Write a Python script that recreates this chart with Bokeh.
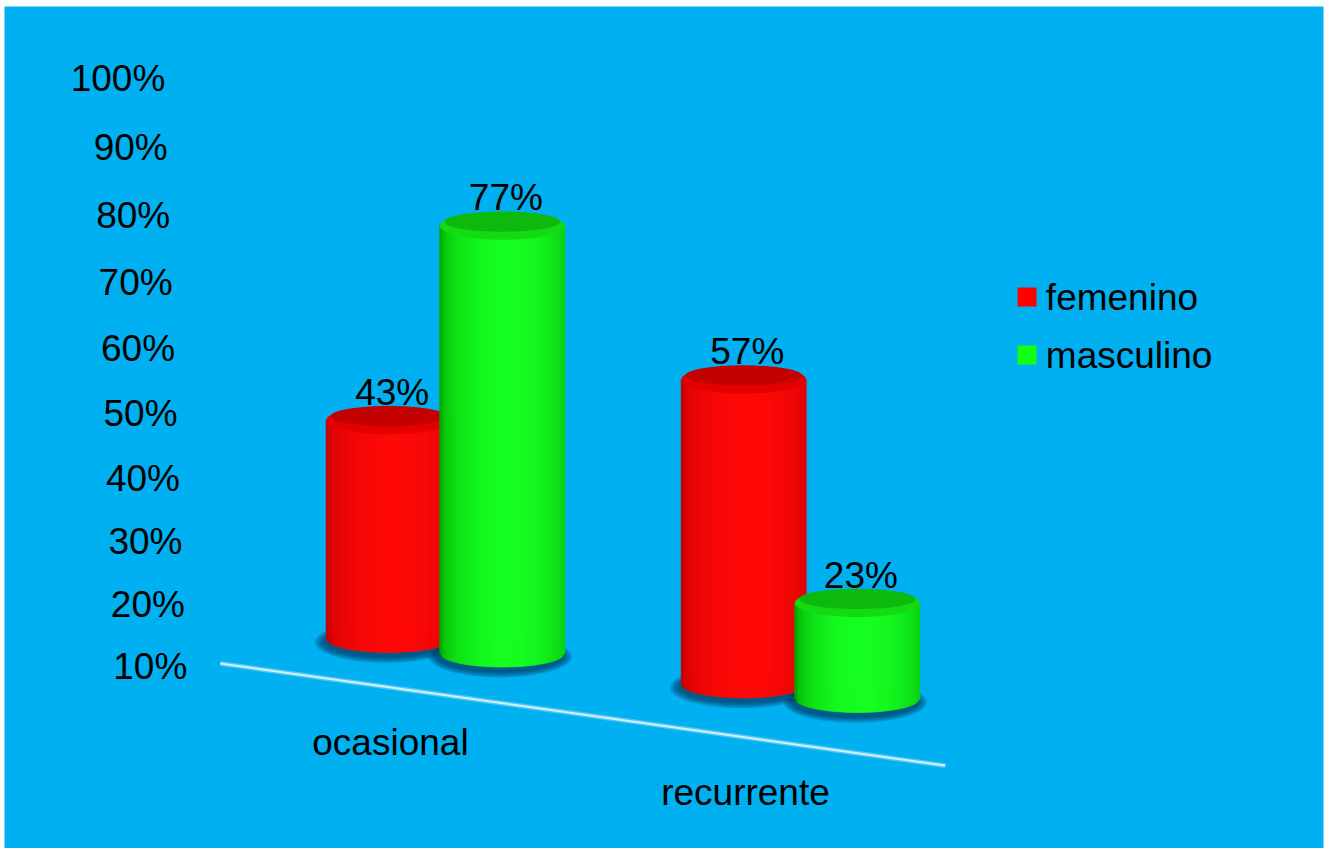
import numpy as np
from bokeh.plotting import figure
from bokeh.models import Range1d
from bokeh.core.properties import value
from bokeh.embed import file_html
from bokeh.resources import INLINE

# ---- data -------------------------------------------------------------
categories = ["ocasional", "recurrente"]
series_names = ["femenino", "masculino"]
femenino = [43, 57]
masculino = [77, 23]
tick_values = [10, 20, 30, 40, 50, 60, 70, 80, 90, 100]
tick_labels = ["10%", "20%", "30%", "40%", "50%", "60%", "70%", "80%", "90%", "100%"]

# ---- styling ----------------------------------------------------------
FONT = value("Liberation Sans")
FONT_SIZE = "37px"
BLUE = "#00B0F0"
# (body centre, body edge, top rim, top face)
SERIES_STYLE = {
    "femenino": ((255, 8, 6), (200, 0, 0), "#E20000", "#C40000"),
    "masculino": ((22, 255, 32), (0, 170, 0), "#14DA14", "#0CB90C"),
}
LEGEND_COLORS = {"femenino": "#FF0000", "masculino": "#11FF11"}

# ---- oblique projection of the 3-D columns ------------------------------
X_RANGE = (-1.242, 2.473)
Y_RANGE = (-17.93, 110.95)
BAR_OFFSET = 0.16      # column centre relative to its category
RADIUS = 0.176         # column radius (x units)
CAP = 2.14             # half height of the elliptical cap (y units)
FLOOR0, FLOOR_SLOPE = 13.10, 6.95      # column base line on the floor
HEIGHT_SCALE, HEIGHT_ZERO = 0.941, 7.5  # value -> column height
FRONT0, FRONT_SLOPE = 5.53, 7.65        # front edge of the floor
FRONT_X = (-0.634, 1.408)
TICK_X0, TICK_SLANT = -0.727, 0.00069   # receding value labels
TICK_BOW = 0.0007                       # perspective spread of the value labels
CAT_DX, CAT_DY = -0.155, 8.42
LABEL_DY = 4.3
LEGEND_X, LEGEND_Y0, LEGEND_DY = 1.638, 66.48, 8.88


def base_at(x):
    return FLOOR0 - FLOOR_SLOPE * x


def front_at(x):
    return FRONT0 - FRONT_SLOPE * x


def tick_y(t):
    # labels spread out slightly towards the top of the receding wall
    return t + TICK_BOW * (t - 10) * (t - 100)


def mix(c0, c1, f):
    r, g, b = (int(round(a + (bb - a) * f)) for a, bb in zip(c0, c1))
    return "#%02x%02x%02x" % (r, g, b)


p = figure(
    width=1331, height=848,
    x_range=Range1d(*X_RANGE), y_range=Range1d(*Y_RANGE),
    x_axis_location=None, y_axis_location=None,
    output_backend="svg", toolbar_location=None,
    min_border_left=4, min_border_right=8, min_border_top=6, min_border_bottom=0,
    background_fill_color=BLUE, border_fill_color="white", outline_line_color=None,
)
p.grid.visible = False

# columns in drawing order: back-left first
columns = []
for gi, cat in enumerate(categories):
    for si, (name, vals) in enumerate(zip(series_names, [femenino, masculino])):
        cx = gi + (-BAR_OFFSET if si == 0 else BAR_OFFSET)
        base = base_at(cx)
        top = base + HEIGHT_SCALE * (vals[gi] - HEIGHT_ZERO)
        columns.append((name, cx, base, top, vals[gi]))

# floor front edge
fx = np.array(FRONT_X)
p.line(fx, front_at(fx), line_color="#9FDDF7", line_width=5, line_alpha=0.5)
p.line(fx, front_at(fx), line_color="#D4F1FF", line_width=2)

# soft shadows beneath the columns
for name, cx, base, top, v in columns:
    for k in range(4):
        p.ellipse(x=cx - 0.006, y=base - 0.55, width=2 * RADIUS + 0.01 + 0.014 * k,
                  height=2 * CAP + 0.6 + 0.5 * k, fill_color="#002448",
                  fill_alpha=0.2, line_color=None)

# shaded cylinder bodies and caps
n_strips = 40
edges = np.linspace(-1.0, 1.0, n_strips + 1)
for name, cx, base, top, v in columns:
    centre_c, edge_c, rim_c, face_c = SERIES_STYLE[name]
    xs, ys, cols = [], [], []
    for t0, t1 in zip(edges[:-1], edges[1:]):
        tm = 0.5 * (t0 + t1)
        f = np.cos(np.clip((tm - 0.08) * np.pi / 2.1, -np.pi / 2, np.pi / 2)) ** 0.45
        x0, x1 = cx + t0 * RADIUS, cx + t1 * RADIUS
        y0 = base - CAP * np.sqrt(max(0.0, 1 - t0 * t0))
        y1 = base - CAP * np.sqrt(max(0.0, 1 - t1 * t1))
        xs.append([x0, x1, x1, x0])
        ys.append([top, top, y1, y0])
        cols.append(mix(edge_c, centre_c, f))
    p.patches(xs, ys, fill_color=cols, line_color=cols, line_width=0.8)
    p.ellipse(x=cx, y=top, width=2 * RADIUS, height=2 * CAP,
              fill_color=rim_c, line_color=None)
    p.ellipse(x=cx, y=top + 0.3 * CAP, width=1.86 * RADIUS, height=1.45 * CAP,
              fill_color=face_c, line_color=None)

# value labels
p.text(x=[c[1] + 0.01 for c in columns], y=[c[3] + LABEL_DY for c in columns],
       text=["%d%%" % c[4] for c in columns], text_font=FONT,
       text_font_size=FONT_SIZE, text_color="black",
       text_align="center", text_baseline="middle")

# receding value axis labels
p.text(x=[TICK_X0 - TICK_SLANT * (t - 10) for t in tick_values],
       y=[tick_y(t) for t in tick_values],
       text=tick_labels, text_font=FONT, text_font_size=FONT_SIZE,
       text_color="black", text_align="right", text_baseline="middle")

# category labels on the floor
cat_x = [gi + CAT_DX for gi in range(len(categories))]
p.text(x=cat_x, y=[front_at(x) - CAT_DY for x in cat_x], text=categories,
       text_font=FONT, text_font_size=FONT_SIZE, text_color="black",
       text_align="center", text_baseline="middle")

# legend
leg_y = [LEGEND_Y0 - i * LEGEND_DY for i in range(len(series_names))]
p.scatter(x=[LEGEND_X] * len(series_names), y=leg_y, marker="square", size=19,
          fill_color=[LEGEND_COLORS[s] for s in series_names], line_color=None)
p.text(x=[LEGEND_X + 0.053] * len(series_names), y=leg_y, text=series_names,
       text_font=FONT, text_font_size=FONT_SIZE, text_color="black",
       text_align="left", text_baseline="middle")

open("out.html", "w").write(file_html(p, INLINE))
